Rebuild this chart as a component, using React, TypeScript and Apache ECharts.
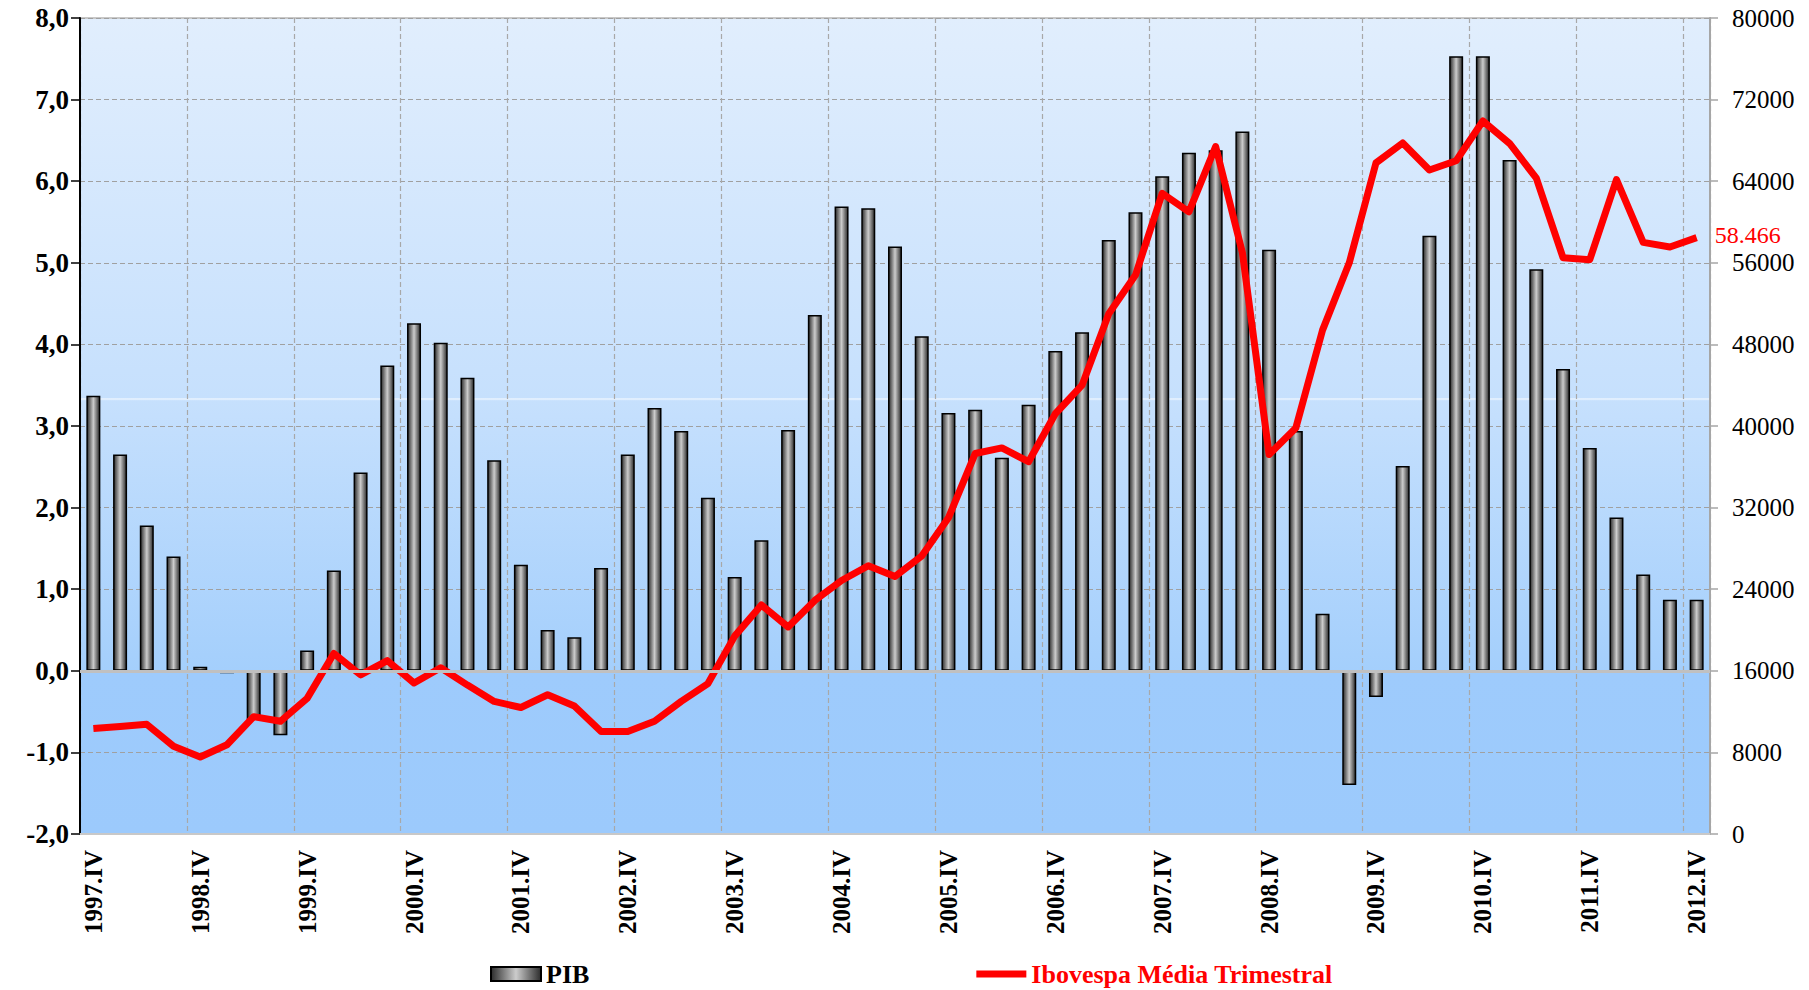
import React, { useEffect, useRef } from "react";
import * as echarts from "echarts";

const categories = [
  "1997.IV",
  "1998.I", "1998.II", "1998.III", "1998.IV",
  "1999.I", "1999.II", "1999.III", "1999.IV",
  "2000.I", "2000.II", "2000.III", "2000.IV",
  "2001.I", "2001.II", "2001.III", "2001.IV",
  "2002.I", "2002.II", "2002.III", "2002.IV",
  "2003.I", "2003.II", "2003.III", "2003.IV",
  "2004.I", "2004.II", "2004.III", "2004.IV",
  "2005.I", "2005.II", "2005.III", "2005.IV",
  "2006.I", "2006.II", "2006.III", "2006.IV",
  "2007.I", "2007.II", "2007.III", "2007.IV",
  "2008.I", "2008.II", "2008.III", "2008.IV",
  "2009.I", "2009.II", "2009.III", "2009.IV",
  "2010.I", "2010.II", "2010.III", "2010.IV",
  "2011.I", "2011.II", "2011.III", "2011.IV",
  "2012.I", "2012.II", "2012.III", "2012.IV",
];

const pib = [
  3.37, 2.65, 1.78, 1.4, 0.05, -0.03, -0.6, -0.79, 0.25, 1.23,
  2.43, 3.74, 4.26, 4.02, 3.59, 2.58, 1.3, 0.5, 0.41, 1.26,
  2.65, 3.22, 2.94, 2.12, 1.15, 1.6, 2.95, 4.36, 5.69, 5.67,
  5.2, 4.1, 3.16, 3.2, 2.61, 3.26, 3.92, 4.15, 5.28, 5.62,
  6.06, 6.35, 6.38, 6.61, 5.16, 2.94, 0.7, -1.4, -0.32, 2.51,
  5.33, 7.53, 7.53, 6.26, 4.92, 3.7, 2.73, 1.88, 1.18, 0.87,
  0.87,
];

const ibovespa = [
  10350, 10550, 10750, 8600, 7550, 8750, 11500, 11050, 13300, 17700,
  15600, 17000, 14800, 16300, 14600, 13000, 12400, 13650, 12550, 10050,
  10050, 11050, 13000, 14750, 19400, 22450, 20300, 22900, 24850, 26300,
  25250, 27250, 31000, 37300, 37850, 36500, 41200, 44000, 51000, 54800,
  62800, 61000, 67400, 57000, 37200, 39800, 49400, 56000, 65800, 67750,
  65100, 66000, 69900, 67700, 64300, 56500, 56300, 64150, 58000, 57550,
  58466,
];

const lastLabel = "58.466";
const seriesNames = ["PIB", "Ibovespa Média Trimestral"];

const SERIF = "'Liberation Serif', 'Times New Roman', serif";

export default function App() {
  const ref = useRef<HTMLDivElement>(null);

  useEffect(() => {
    document.body.style.margin = "0";
    const chart = echarts.init(ref.current!, null, { renderer: "svg" });

    const bg = new echarts.graphic.LinearGradient(0, 0, 0, 1, [
      { offset: 0, color: "#e1eefd" },
      { offset: 0.466, color: "#c6e0fd" },
      { offset: 0.4665, color: "#f2f8ff" },
      { offset: 0.469, color: "#c6e0fd" },
      { offset: 0.8, color: "#a4cffc" },
      { offset: 0.8001, color: "#9ecbfc" },
      { offset: 1, color: "#9ccafc" },
    ]);

    const barFill = new echarts.graphic.LinearGradient(0, 0, 1, 0, [
      { offset: 0, color: "#2c2c2c" },
      { offset: 0.5, color: "#cccccc" },
      { offset: 1, color: "#2c2c2c" },
    ]);

    chart.setOption({
      animation: false,
      grid: {
        left: 80,
        right: 99,
        top: 18,
        bottom: 156,
        show: true,
        backgroundColor: bg,
        borderColor: "#c8c8c8",
        borderWidth: 2,
      },
      legend: {
        left: 485,
        top: 956,
        itemWidth: 50,
        itemHeight: 14,
        itemGap: 387,
        textStyle: {
          fontFamily: SERIF,
          fontWeight: "bold",
          fontSize: 26,
        },
        data: [
          { name: seriesNames[0], icon: "rect", textStyle: { color: "#000" } },
          {
            name: seriesNames[1],
            icon: "path://M0,0h0.1v0.1h-0.1z M0,3.5h50v7h-50z M0,13.9h0.1v0.1h-0.1z",
            itemStyle: { color: "#ff0000" },
            textStyle: { color: "#ff0000" },
          },
        ],
      },
      xAxis: {
        type: "category",
        data: categories,
        boundaryGap: true,
        axisLine: { onZero: false, lineStyle: { color: "#c8c8c8", width: 2 } },
        axisTick: { show: false },
        axisLabel: {
          interval: 3,
          rotate: 90,
          margin: 16,
          color: "#000",
          fontFamily: SERIF,
          fontWeight: "bold",
          fontSize: 25,
        },
        splitLine: {
          show: true,
          interval: 3,
          lineStyle: { color: "#a8a8a8", type: [5, 3], width: 1.2 },
        },
      },
      yAxis: [
        {
          type: "value",
          min: -2,
          max: 8,
          interval: 1,
          position: "left",
          axisLine: { show: true, lineStyle: { color: "#000", width: 2 } },
          axisTick: { show: true, length: 9, lineStyle: { color: "#000", width: 1.5 } },
          axisLabel: {
            margin: 11,
            color: "#000",
            fontFamily: SERIF,
            fontWeight: "bold",
            fontSize: 27,
            formatter: (v: number) => v.toFixed(1).replace(".", ","),
          },
          splitLine: {
            show: true,
            lineStyle: { color: "#a0a0a0", type: [5, 3], width: 1.2 },
          },
        },
        {
          type: "value",
          min: 0,
          max: 80000,
          interval: 8000,
          position: "right",
          axisLine: { show: true, lineStyle: { color: "#a6a6a6", width: 2 } },
          axisTick: { show: true, length: 8, lineStyle: { color: "#a6a6a6", width: 1.5 } },
          axisLabel: {
            margin: 22,
            color: "#000",
            fontFamily: SERIF,
            fontSize: 25,
            lineHeight: 22,
            formatter: (v: number) => String(v),
          },
          splitLine: { show: false },
        },
      ],
      series: [
        {
          name: seriesNames[0],
          type: "bar",
          yAxisIndex: 0,
          data: pib,
          barWidth: 14,
          itemStyle: {
            color: barFill,
            borderColor: "#000",
            borderWidth: 1.5,
          },
          markLine: {
            silent: true,
            symbol: "none",
            label: { show: false },
            lineStyle: { color: "#c0c0c0", type: "solid", width: 3 },
            data: [{ yAxis: 0 }],
          },
        },
        {
          name: seriesNames[1],
          type: "line",
          yAxisIndex: 1,
          data: ibovespa,
          symbol: "none",
          showSymbol: false,
          color: "#ff0000",
          lineStyle: { color: "#ff0000", width: 7, join: "round" },
          endLabel: {
            show: true,
            formatter: () => lastLabel,
            color: "#ff0000",
            fontFamily: SERIF,
            fontSize: 24,
            lineHeight: 20,
            distance: 18,
            offset: [0, -3],
          },
        },
      ],
    });

    return () => {
      chart.dispose();
    };
  }, []);

  return <div ref={ref} style={{ width: 1809, height: 990 }} />;
}
